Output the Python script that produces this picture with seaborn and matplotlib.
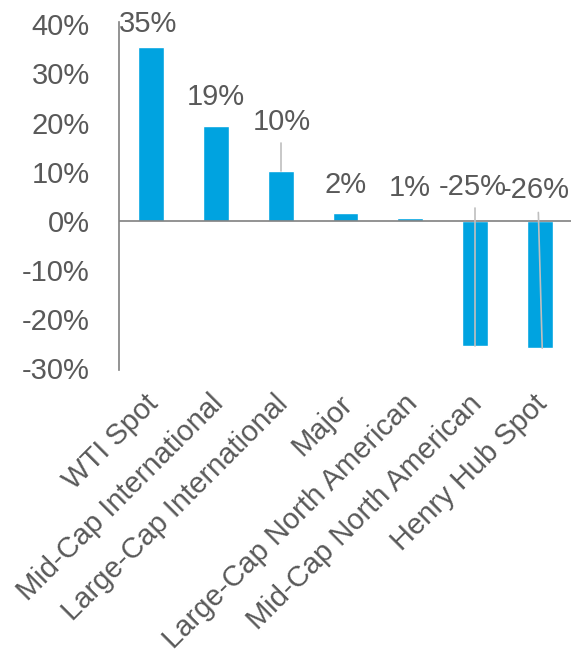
import matplotlib
matplotlib.use("Agg")
import matplotlib.pyplot as plt
import matplotlib.transforms as mtransforms
import seaborn as sns
import pandas as pd

categories = ["WTI Spot", "Mid-Cap International", "Large-Cap International", "Major",
              "Large-Cap North American", "Mid-Cap North American", "Henry Hub Spot"]
values = [35.4, 19.2, 10.1, 1.5, 0.6, -25.4, -25.9]
value_labels = ["35%", "19%", "10%", "2%", "1%", "-25%", "-26%"]
y_ticks = [-30, -20, -10, 0, 10, 20, 30, 40]
y_tick_labels = ["-30%", "-20%", "-10%", "0%", "10%", "20%", "30%", "40%"]

sns.set_theme(style="white")
plt.rcParams["font.family"] = ["Liberation Sans", "DejaVu Sans"]

BAR = "#00A3E0"
TXT = "#595959"
AX = "#808080"
FS = 21

fig = plt.figure(figsize=(5.71, 6.55), dpi=100)
ax = fig.add_axes([119 / 571, 1 - 370 / 655, (572 - 119) / 571, (370 - 22) / 655])

df = pd.DataFrame({"cat": categories, "val": values})
sns.barplot(data=df, x="cat", y="val", color=BAR, width=0.4, saturation=1, ax=ax)

ax.set_ylim(-30.35, 40.45)
ax.set_xlim(-0.5, len(categories) - 0.5)
ax.set_yticks(y_ticks)
ax.set_yticklabels(y_tick_labels, fontsize=FS, color=TXT)
ax.set_xticks(range(len(categories)))
ax.set_xticklabels(categories, rotation=45, ha="right", rotation_mode="anchor",
                   fontsize=FS, color=TXT)
ax.tick_params(axis="y", length=0, pad=21)
ax.tick_params(axis="x", length=0, pad=14)
shift = mtransforms.ScaledTranslation(-7 / 100, 0, fig.dpi_scale_trans)
for lbl in ax.get_xticklabels():
    lbl.set_transform(lbl.get_transform() + shift)
ax.set_xlabel("")
ax.set_ylabel("")
for s in ["top", "right", "bottom"]:
    ax.spines[s].set_visible(False)
ax.spines["left"].set_color(AX)
ax.spines["left"].set_linewidth(1.2)
ax.axhline(0, color=AX, lw=1.2, zorder=3)

# data label positions (x offset, y centre) and leader lines
label_pos = [(-0.05, 40.0), (0.0, 25.2), (0.02, 20.1), (0.0, 7.3), (0.0, 6.7), (-0.03, 6.8), (-0.06, 6.2)]
for i, (v, lab) in enumerate(zip(values, value_labels)):
    dx, ly = label_pos[i]
    ax.text(i + dx, ly, lab, ha="center", va="center", fontsize=FS, color=TXT, zorder=5)

leaders = {2: (0.0, 15.8, 0.0), 5: (0.0, 2.7, 0.0), 6: (-0.02, 1.7, 0.04)}
for i, (dx0, y0, dx1) in leaders.items():
    ax.plot([i + dx0, i + dx1], [y0, values[i]], color="#BFBFBF", lw=1.2, zorder=4)

fig.savefig("out.png", dpi=100)
